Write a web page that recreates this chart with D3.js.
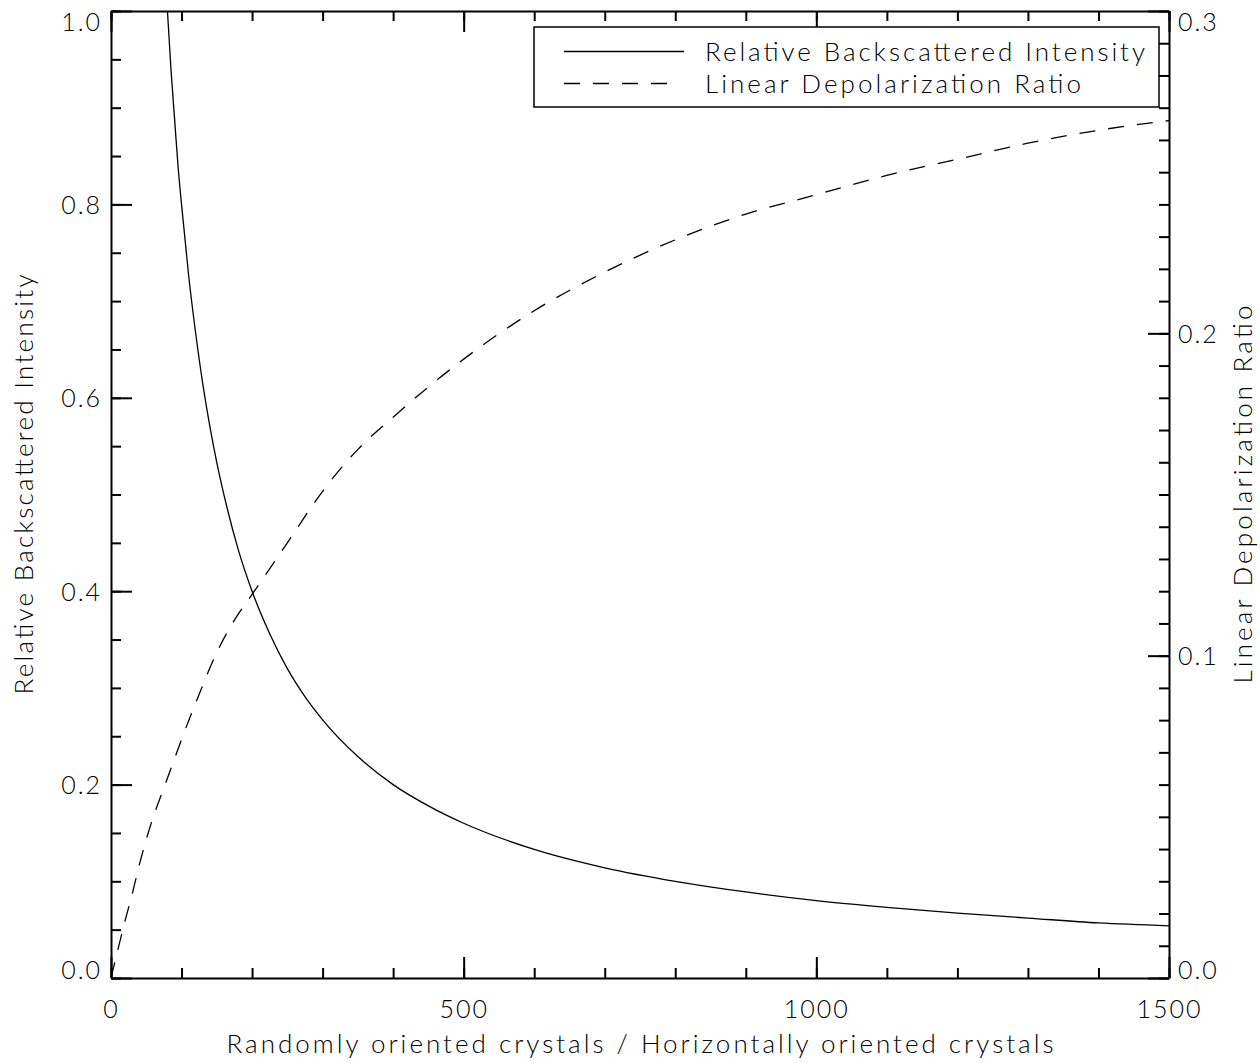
<!DOCTYPE html>
<html>
<head>
<meta charset="utf-8">
<script src="https://cdn.jsdelivr.net/npm/d3@7"></script>
<style>
  html, body { margin: 0; padding: 0; background: #fff; }
  svg { display: block; font-family: Lato, "DejaVu Sans", sans-serif; font-weight: 300; }
  .axis path.domain { stroke: #000; stroke-width: 2; }
  .axis line { stroke: #000; stroke-width: 2; }
  .axis text { fill: #000; font-size: 25px; font-family: Lato, "DejaVu Sans", sans-serif; font-weight: 300; letter-spacing: 2px; }
</style>
</head>
<body>
<div id="chart"></div>
<script>
// crystal ratio (randomly / horizontally oriented) vs. relative backscatter
const ratioI = [80, 85, 90, 95, 100, 110, 120, 130, 140, 150, 165, 180, 200, 225, 250, 275, 300,
  350, 400, 450, 500, 600, 700, 800, 900, 1000, 1100, 1200, 1300, 1400, 1500];
const intensity = [1.0, 0.94, 0.89, 0.84, 0.80, 0.727, 0.667, 0.615, 0.571, 0.533, 0.485, 0.444,
  0.40, 0.356, 0.32, 0.291, 0.267, 0.229, 0.20, 0.178, 0.16, 0.133, 0.114, 0.10, 0.089, 0.08,
  0.073, 0.067, 0.062, 0.057, 0.054];

// same ratio axis vs. linear depolarization ratio (right axis)
const ratioD = [0, 10, 20, 30, 40, 50, 60, 75, 90, 100, 125, 150, 175, 200, 250, 300, 350, 400,
  500, 600, 700, 800, 900, 1000, 1100, 1200, 1300, 1400, 1500];
const depol = [0, 0.009, 0.0178, 0.026, 0.035, 0.043, 0.050, 0.059, 0.068, 0.074, 0.088, 0.101,
  0.111, 0.119, 0.135, 0.151, 0.164, 0.174, 0.192, 0.207, 0.219, 0.229, 0.237, 0.243, 0.249,
  0.254, 0.259, 0.263, 0.266];

const xMajor = [0, 500, 1000, 1500];
const xMinor = d3.range(0, 1501, 100);
const leftMajor = [0, 0.2, 0.4, 0.6, 0.8, 1.0];
const leftMinor = d3.range(0, 1.0001, 0.05);
const rightMajor = [0, 0.1, 0.2, 0.3];
const rightMinor = d3.range(0, 0.3001, 0.01);

const legendItems = [
  { label: 'Relative Backscattered Intensity', dash: null, len: 440, line: 120 },
  { label: 'Linear Depolarization Ratio', dash: '16,13', len: 376, line: 103 }
];

const W = 1260, H = 1063;
const m = { t: 11, r: 91, b: 85, l: 111 };
const innerW = W - m.l - m.r;
const innerH = H - m.t - m.b;

const svg = d3.select('#chart').append('svg').attr('width', W).attr('height', H);
const g = svg.append('g').attr('transform', `translate(${m.l},${m.t})`);

const x = d3.scaleLinear().domain([0, 1500]).range([0, innerW]);
const yL = d3.scaleLinear().domain([0, 1]).range([innerH, 0]);
const yR = d3.scaleLinear().domain([0, 0.3]).range([innerH, 0]);

const big = 21, small = 10;

// minor ticks first, majors drawn over them
function minor(axis, scale, ticks, tr) {
  const a = g.append('g').attr('class', 'axis').attr('transform', tr || null)
    .call(axis(scale).tickValues(ticks).tickSize(-small).tickSizeOuter(0).tickFormat(''));
  a.select('.domain').remove();
}
minor(d3.axisBottom, x, xMinor, `translate(0,${innerH})`);
minor(d3.axisTop, x, xMinor);
minor(d3.axisLeft, yL, leftMinor);
minor(d3.axisRight, yR, rightMinor, `translate(${innerW},0)`);

const fmt = d3.format('.1f');

g.append('g').attr('class', 'axis').attr('transform', `translate(0,${innerH})`)
  .call(d3.axisBottom(x).tickValues(xMajor).tickSize(-big).tickSizeOuter(0).tickPadding(22).tickFormat(d3.format('d')));

g.append('g').attr('class', 'axis')
  .call(d3.axisTop(x).tickValues(xMajor).tickSize(-big).tickSizeOuter(0).tickFormat(''));

const left = g.append('g').attr('class', 'axis')
  .call(d3.axisLeft(yL).tickValues(leftMajor).tickSize(-big).tickSizeOuter(0).tickPadding(9).tickFormat(fmt));

const right = g.append('g').attr('class', 'axis').attr('transform', `translate(${innerW},0)`)
  .call(d3.axisRight(yR).tickValues(rightMajor).tickSize(-big).tickSizeOuter(0).tickPadding(9).tickFormat(fmt));

// end labels sit inside the frame
[[left, leftMajor], [right, rightMajor]].forEach(([ax, vals]) => {
  const top = vals[vals.length - 1];
  ax.selectAll('.tick text')
    .attr('dy', d => d === 0 ? '0em' : (Math.abs(d - top) < 1e-9 ? '0.76em' : '0.36em'));
});

// curves
svg.append('clipPath').attr('id', 'plot')
  .append('rect').attr('width', innerW).attr('height', innerH);

const lineI = d3.line().x((d, i) => x(ratioI[i])).y(d => yL(d)).curve(d3.curveMonotoneX);
const lineD = d3.line().x((d, i) => x(ratioD[i])).y(d => yR(d)).curve(d3.curveMonotoneX);

g.append('path').attr('clip-path', 'url(#plot)').attr('d', lineI(intensity))
  .attr('fill', 'none').attr('stroke', '#000').attr('stroke-width', 1.3);
g.append('path').attr('clip-path', 'url(#plot)').attr('d', lineD(depol))
  .attr('fill', 'none').attr('stroke', '#000').attr('stroke-width', 1.3)
  .attr('stroke-dasharray', '16,13');

// axis titles
svg.append('text')
  .attr('x', m.l + innerW / 2).attr('y', 1053)
  .attr('text-anchor', 'middle').attr('font-size', 26)
  .attr('textLength', 827).attr('lengthAdjust', 'spacing')
  .text('Randomly oriented crystals / Horizontally oriented crystals');

svg.append('text')
  .attr('transform', `translate(33,${m.t + innerH / 2 - 10}) rotate(-90)`)
  .attr('text-anchor', 'middle').attr('font-size', 26)
  .attr('textLength', 420).attr('lengthAdjust', 'spacing')
  .text('Relative Backscattered Intensity');

svg.append('text')
  .attr('transform', `translate(1252,${m.t + innerH / 2}) rotate(-90)`)
  .attr('text-anchor', 'middle').attr('font-size', 26)
  .attr('textLength', 378).attr('lengthAdjust', 'spacing')
  .text('Linear Depolarization Ratio');

// legend
const lg = svg.append('g').attr('transform', 'translate(534,27)');
lg.append('rect').attr('width', 625).attr('height', 80)
  .attr('fill', '#fff').attr('stroke', '#000').attr('stroke-width', 1.5);
legendItems.forEach((it, i) => {
  const yy = 24.5 + i * 32;
  lg.append('line').attr('x1', 30).attr('x2', 30 + it.line).attr('y1', yy).attr('y2', yy)
    .attr('stroke', '#000').attr('stroke-width', 1.3)
    .attr('stroke-dasharray', it.dash);
  lg.append('text').attr('x', 171).attr('y', yy + 9).attr('font-size', 26)
    .attr('textLength', it.len).attr('lengthAdjust', 'spacing')
    .text(it.label);
});
</script>
</body>
</html>
